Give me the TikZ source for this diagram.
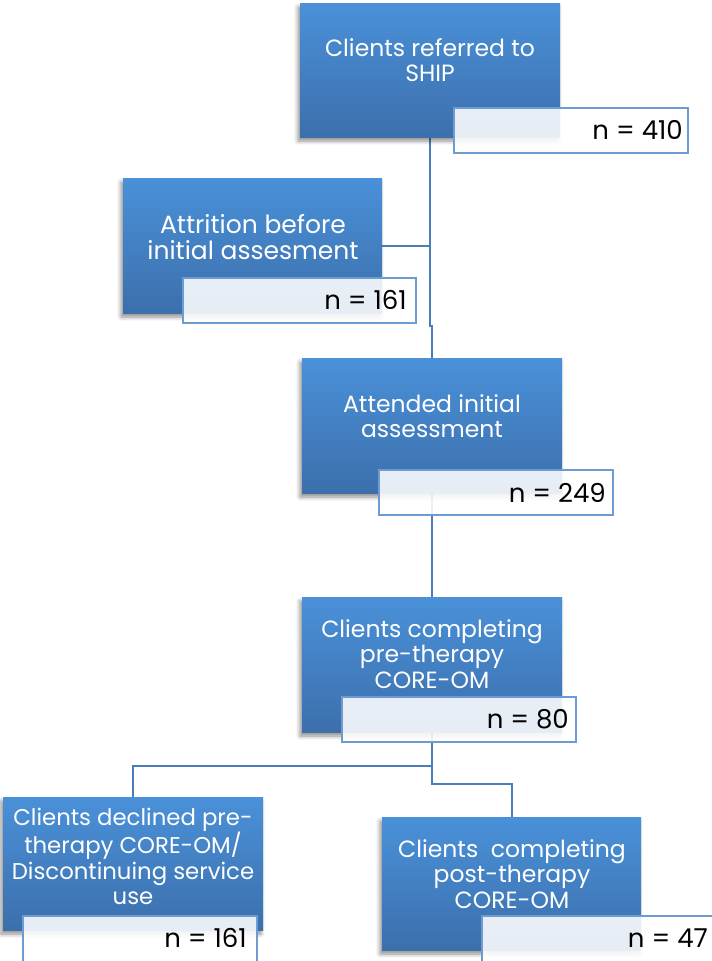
\documentclass[tikz,border=0pt]{standalone}
\usepackage{fontspec}
\setmainfont{Poppins}
\usetikzlibrary{shadows.blur,backgrounds}
\definecolor{boxtop}{RGB}{74,145,217}
\definecolor{boxbot}{RGB}{60,111,172}
\definecolor{conncol}{RGB}{74,126,187}
\definecolor{nborder}{RGB}{110,155,210}
\newcommand\topst{\rule{0pt}{18pt}}
\tikzset{
  bluebox/.style={rectangle, inner sep=0pt, outer sep=0pt, top color=boxtop, bottom color=boxbot, draw=none,
    blur shadow={shadow xshift=-2pt, shadow yshift=-4pt, shadow blur radius=4pt, shadow opacity=45},
    anchor=north west},
  nbox/.style={rectangle, inner sep=0pt, outer sep=0pt, draw=nborder, line width=1.5pt, fill=white, fill opacity=0.88, anchor=north west},
  boxtext/.style={inner sep=0pt, text=white, align=center, anchor=north, font=\fontsize{23.5}{25.5}\selectfont},
  ntext/.style={inner sep=0pt, text=black, anchor=base east, font=\fontsize{26}{28}\selectfont},
  conn/.style={draw=conncol, line width=2pt}
}
\begin{document}
\begin{tikzpicture}[x=1pt,y=-1pt]
\useasboundingbox (0,0) rectangle (712,961);
\clip (0,0) rectangle (712,961);
% blue boxes
\node[bluebox, minimum width=260pt, minimum height=134pt] (ship) at (300,3) {};
\node[bluebox, minimum width=259pt, minimum height=135pt] (attr) at (123,178) {};
\node[bluebox, minimum width=260pt, minimum height=135pt] (att) at (302,358) {};
\node[bluebox, minimum width=260pt, minimum height=135pt] (pre) at (302,597) {};
\node[bluebox, minimum width=260pt, minimum height=133pt] (dec) at (3,797) {};
\node[bluebox, minimum width=259pt, minimum height=133pt] (post) at (382,817) {};
% box texts
\node[boxtext] (shiptxt) at (430,38) {\topst Clients referred to\\SHIP};
\node[boxtext, font=\fontsize{25}{26}\selectfont] (attrtxt) at (253,214) {\topst Attrition before\\initial assesment};
\node[boxtext] (atttxt) at (432,394) {\topst Attended initial\\assessment};
\node[boxtext] (pretxt) at (432,619) {\topst Clients completing\\pre-therapy\\CORE-OM};
\node[boxtext, font=\fontsize{22.8}{25.5}\selectfont] (dectxt) at (133,807) {\topst Clients declined pre-\\therapy CORE-OM/\\Discontinuing service\\use};
\node[boxtext] (posttxt) at (512,839) {\topst Clients\ \ completing\\post-therapy\\CORE-OM};
% n boxes
\node[nbox, minimum width=234pt, minimum height=45pt] (shipn) at (454,108) {};
\node[nbox, minimum width=233pt, minimum height=45pt] (attrn) at (183,278) {};
\node[nbox, minimum width=234pt, minimum height=45pt] (attn) at (379,470) {};
\node[nbox, minimum width=234pt, minimum height=45pt] (pren) at (342,697) {};
\node[nbox, minimum width=234pt, minimum height=48pt] (decn) at (23,916) {};
\node[nbox, minimum width=240pt, minimum height=48pt] (postn) at (482,916) {};
\node[ntext] (shipntxt) at (683,139) {n = 410};
\node[ntext] (attrntxt) at (407,309) {n = 161};
\node[ntext] (attntxt) at (606,502) {n = 249};
\node[ntext] (prentxt) at (569,728) {n = 80};
\node[ntext] (decntxt) at (247,947) {n = 161};
\node[ntext] (postntxt) at (708,947) {n = 47};
% connectors
\begin{pgfonlayer}{background}
\draw[conn] (ship.south) -- ++(0,189) -| (att.north);
\draw[conn] (attr.east) -- (ship.south |- attr.east);
\draw[conn] (att.south) -- (pre.north);
\draw[conn] (pre.south) -- ++(0,52) -| (post.north);
\coordinate (junc) at ([yshift=-34pt]pre.south);
\draw[conn] (junc) -| (dec.north);
\end{pgfonlayer}
\end{tikzpicture}
\end{document}
